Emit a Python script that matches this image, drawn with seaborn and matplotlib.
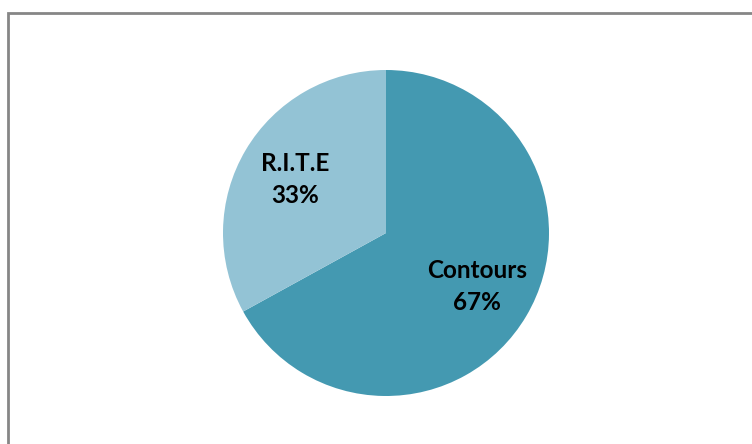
import matplotlib
matplotlib.use("Agg")
import matplotlib.pyplot as plt
import seaborn as sns
import numpy as np
from matplotlib.patches import Rectangle

categories = ["Contours", "R.I.T.E"]
values = [67, 33]
colors = ["#4499B1", "#93C3D5"]

sns.set_theme(style="white")
plt.rcParams['font.family'] = ['Lato', 'DejaVu Sans']

W, H = 752, 444
fig = plt.figure(figsize=(W / 100, H / 100), dpi=100)
fig.patch.set_facecolor("white")

# frame line
fig.patches.append(Rectangle((7.5 / W, -0.1), 1.2, (H - 13.5) / H + 0.1,
                             transform=fig.transFigure, fill=False,
                             edgecolor="#868686", linewidth=2.0, zorder=0))

cx, cy, r = 386, H - 233, 163
ax = fig.add_axes([(cx - r) / W, (cy - r) / H, 2 * r / W, 2 * r / H])

wedges = ax.pie(values, colors=colors, startangle=90, counterclock=False,
                radius=1, wedgeprops=dict(linewidth=0))[0]
for w, cat, v in zip(wedges, categories, values):
    ang = np.deg2rad((w.theta1 + w.theta2) / 2)
    d = 0.647
    ax.text(d * np.cos(ang), d * np.sin(ang), f"{cat}\n{v}%", ha="center", va="center",
            fontsize=17.5, fontweight="bold", color="black", linespacing=1.45)
ax.set_xlim(-1, 1)
ax.set_ylim(-1, 1)
ax.axis("off")

fig.savefig("out.png", dpi=100, facecolor="white")
